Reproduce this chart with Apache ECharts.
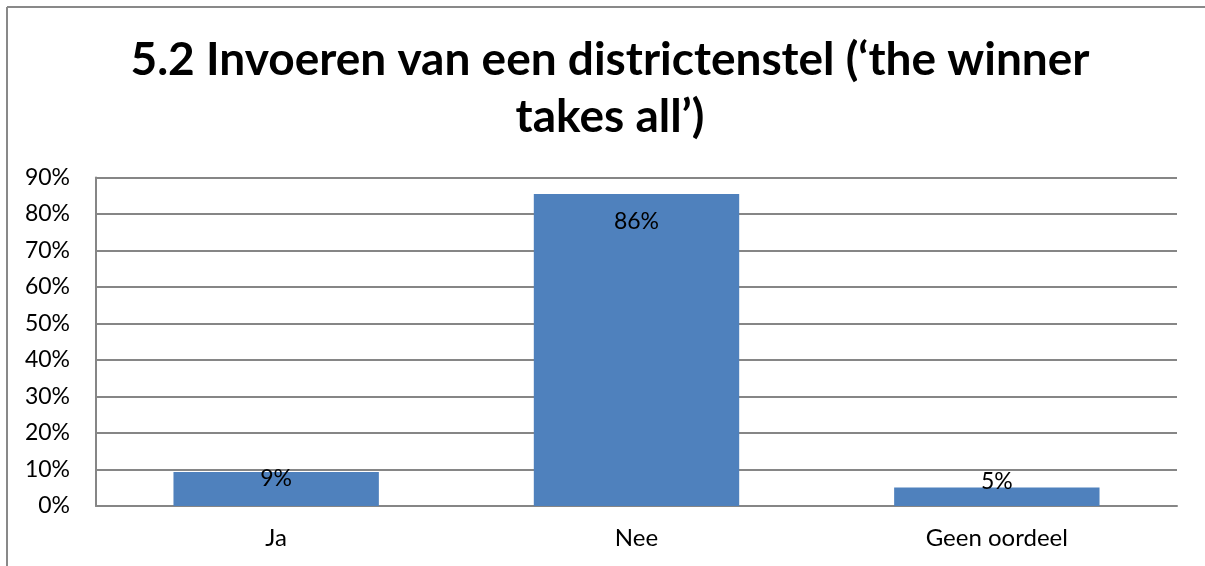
<!DOCTYPE html>
<html>
<head>
<meta charset="utf-8">
<script src="https://cdn.jsdelivr.net/npm/echarts@6/dist/echarts.min.js"></script>
<style>
html,body{margin:0;padding:0;background:#fff;overflow:hidden;width:100%;height:100%;}
#main{width:100vw;height:100vh;}
</style>
</head>
<body>
<div id="main"></div>
<script>
var titleText = "5.2 Invoeren van een districtenstel (\u2018the winner\ntakes all\u2019)";
var categories = ["Ja", "Nee", "Geen oordeel"];
var values = [0.093, 0.855, 0.051];
var valueLabels = ["9%", "86%", "5%"];
var yMin = 0, yMax = 0.9, yStep = 0.1;

var chart = echarts.init(document.getElementById('main'));
var labelOffsets = [[0, -5], [0, 16], [0, -17]];
chart.setOption({
  animation: false,
  graphic: [
    {type: 'line', shape: {x1: 7, y1: 7, x2: 1260, y2: 7}, style: {stroke: '#898989', lineWidth: 2}, silent: true},
    {type: 'line', shape: {x1: 7, y1: 7, x2: 7, y2: 600}, style: {stroke: '#898989', lineWidth: 2}, silent: true}
  ],
  title: {
    text: titleText,
    left: 605,
    top: 27,
    textAlign: 'center',
    textStyle: {fontFamily: 'Lato', fontWeight: 'bold', fontSize: 46, lineHeight: 57, color: '#000'}
  },
  grid: {left: 96, right: 28, top: 177.5, bottom: 60, containLabel: false},
  xAxis: {
    type: 'category',
    data: categories,
    axisLine: {lineStyle: {color: '#868686', width: 2}},
    axisTick: {show: false},
    axisLabel: {fontFamily: 'Lato', fontSize: 24, color: '#000', margin: 20}
  },
  yAxis: {
    type: 'value',
    min: yMin, max: yMax, interval: yStep,
    axisLine: {show: true, lineStyle: {color: '#868686', width: 2}},
    axisTick: {show: false},
    splitLine: {lineStyle: {color: '#868686', width: 2}},
    axisLabel: {
      fontFamily: 'Lato', fontSize: 23, color: '#000', margin: 26,
      formatter: function (v) { return Math.round(v * 100) + '%'; }
    }
  },
  series: [{
    type: 'bar',
    barWidth: '57%',
    itemStyle: {color: '#4F81BD'},
    data: values.map(function (v, i) {
      return {
        value: v,
        label: {
          show: true, position: 'insideTop', distance: 0,
          offset: labelOffsets[i],
          formatter: valueLabels[i],
          fontFamily: 'Lato', fontSize: 23, color: '#000'
        }
      };
    })
  }]
});
</script>
</body>
</html>
